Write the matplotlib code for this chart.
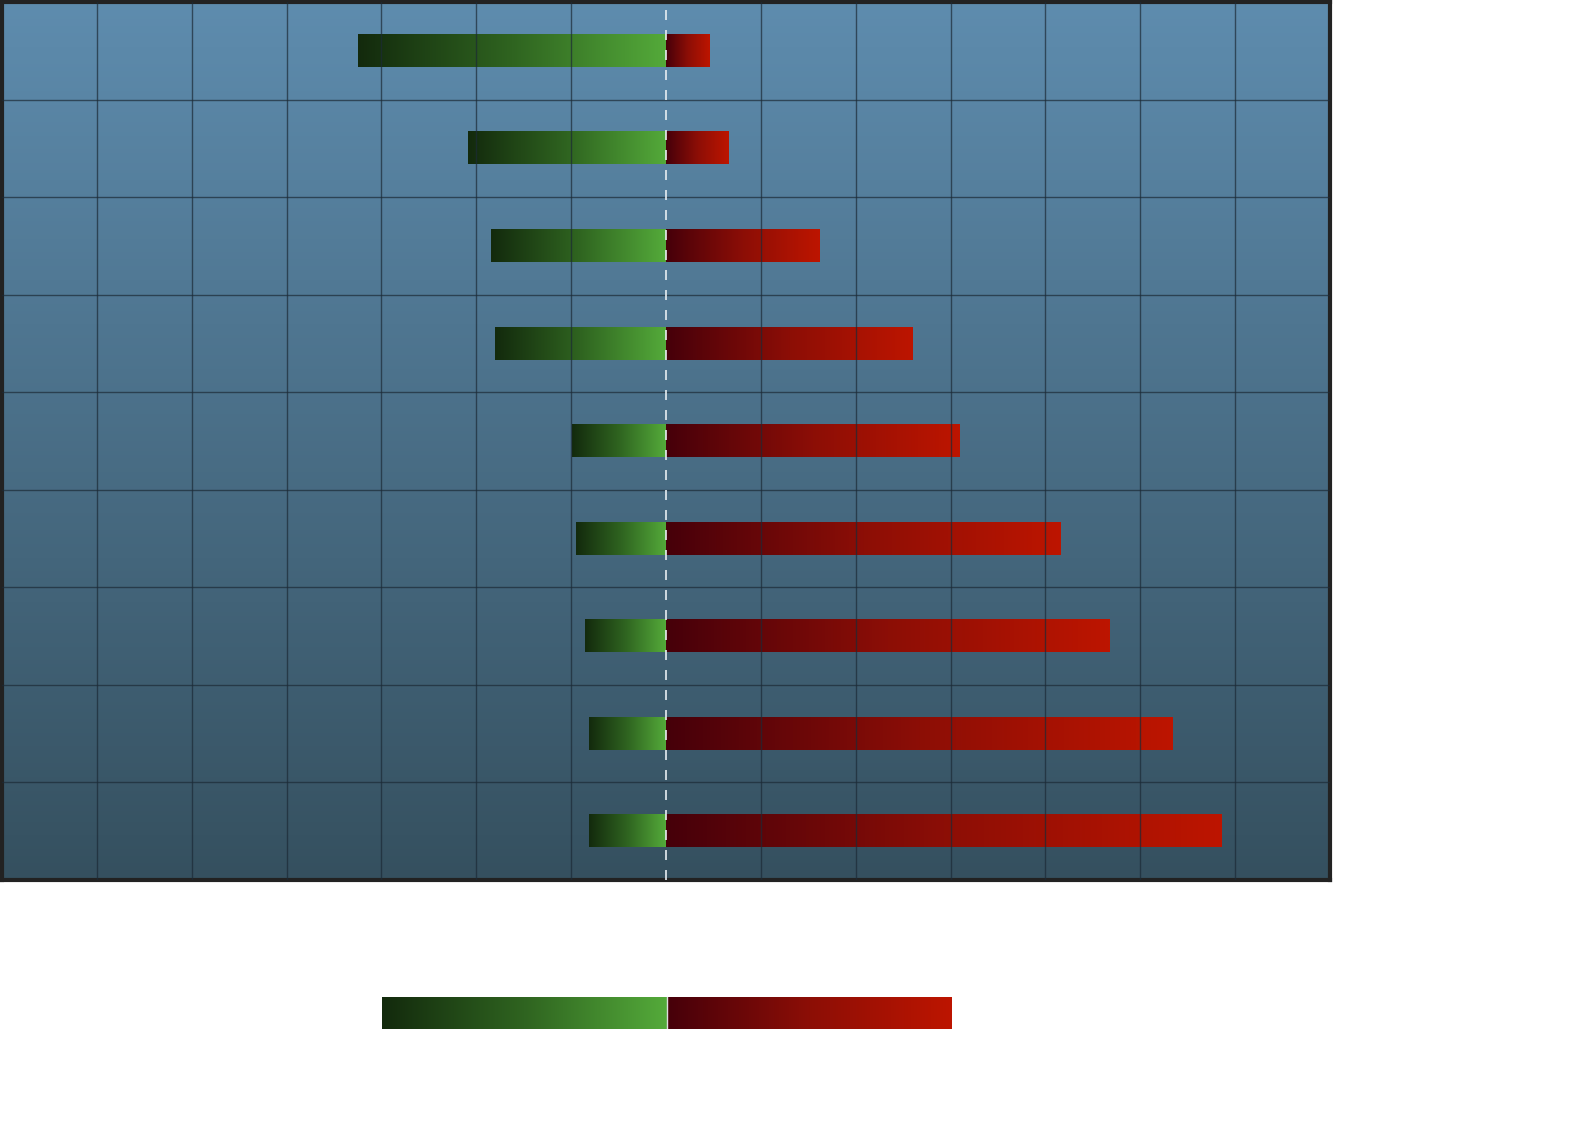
import numpy as np
import matplotlib.pyplot as plt
from matplotlib.colors import LinearSegmentedColormap

# ====================================================================
# Data (one row per category, top to bottom)
# ====================================================================
rows = list(range(9))
neg_vals = [-3.25, -2.09, -1.84, -1.80, -0.99, -0.95, -0.85, -0.81, -0.81]
pos_vals = [0.46, 0.66, 1.62, 2.60, 3.09, 4.16, 4.68, 5.34, 5.86]
x_ticks = [-7, -6, -5, -4, -3, -2, -1, 0, 1, 2, 3, 4, 5, 6, 7]
legend_span = [3.0, 3.0]

GREEN = LinearSegmentedColormap.from_list('g', ['#132a0d', '#2f6420', '#54aa3a'])
RED = LinearSegmentedColormap.from_list('r', ['#46000a', '#8c0e06', '#bd1500'])
BG = LinearSegmentedColormap.from_list('bg', ['#35505f', '#5e8cae'])

grad = np.linspace(0, 1, 256).reshape(1, -1)

fig = plt.figure(figsize=(15.88, 11.22), dpi=100)
ax = fig.add_axes([2 / 1588, 1 - 880 / 1122, 1328 / 1588, 878 / 1122])

ax.set_xlim(x_ticks[0], x_ticks[-1])
ax.set_ylim(len(rows) - 0.5, -0.5)

# background gradient
ax.imshow(np.linspace(0, 1, 256).reshape(-1, 1)[::-1], cmap=BG, aspect='auto',
          extent=[0, 1, 0, 1], transform=ax.transAxes, zorder=0)

h = 0.33
for y, n, p in zip(rows, neg_vals, pos_vals):
    ax.imshow(grad, cmap=GREEN, aspect='auto', interpolation='bilinear',
              extent=[n, 0, y + h / 2, y - h / 2], zorder=2)
    ax.imshow(grad, cmap=RED, aspect='auto', interpolation='bilinear',
              extent=[0, p, y + h / 2, y - h / 2], zorder=2)

# grid on top of bars
for xv in x_ticks[1:-1]:
    if xv == 0:
        ax.axvline(0, color='#e8eef2', lw=1.2, ls=(0, (6, 6)), zorder=4)
    else:
        ax.axvline(xv, color='#1c2a36', lw=1.0, alpha=0.7, zorder=3)
for yv in np.arange(0.5, len(rows) - 0.5, 1):
    ax.axhline(yv, color='#1c2a36', lw=1.0, alpha=0.7, zorder=3)

ax.set_xticks([])
ax.set_yticks([])
for s in ax.spines.values():
    s.set_color('#222222')
    s.set_linewidth(3)

# legend strip
lax = fig.add_axes([382 / 1588, 1 - 1029 / 1122, 570 / 1588, 32 / 1122])
lax.set_xlim(-legend_span[0], legend_span[1])
lax.set_ylim(0, 1)
lax.imshow(grad, cmap=GREEN, aspect='auto', interpolation='bilinear',
           extent=[-legend_span[0], 0, 0, 1])
lax.imshow(grad, cmap=RED, aspect='auto', interpolation='bilinear',
           extent=[0, legend_span[1], 0, 1])
lax.axvline(0, color='#dddddd', lw=1)
lax.axis('off')

fig.savefig('out.png', dpi=100)
